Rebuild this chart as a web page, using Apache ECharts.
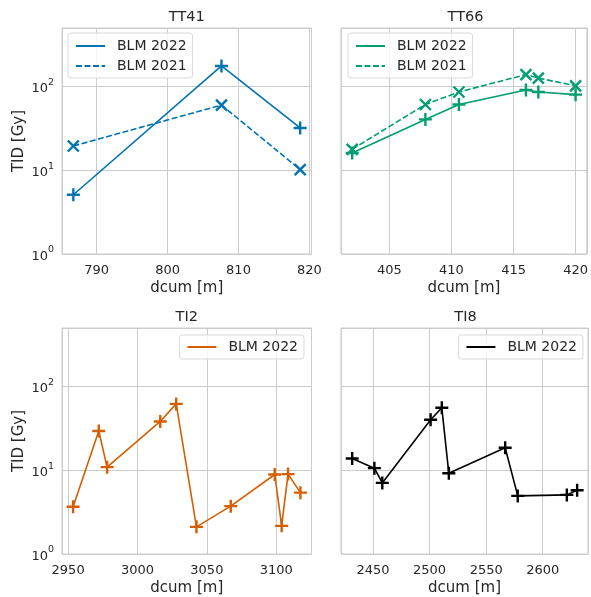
<!DOCTYPE html>
<html><head><meta charset="utf-8">
<script src="https://cdn.jsdelivr.net/npm/echarts@6/dist/echarts.min.js"></script>
<style>html,body{margin:0;padding:0;background:#fff}#c{width:591px;height:597px}</style>
</head><body><div id="c"></div>
<script>
// ---- data ----
const panelTitles = ['TT41', 'TT66', 'TI2', 'TI8'];
const legendLabels = ['BLM 2022', 'BLM 2021'];
const tt41X = [786.7, 807.6, 818.7];
const tt41Blm2022 = [5.1, 176, 32];
const tt41Blm2021 = [19.5, 60, 10.2];
const tt66X = [402.0, 407.9, 410.6, 416.0, 417.0, 420.0];
const tt66Blm2022 = [16.1, 40.5, 61, 91, 86, 80];
const tt66Blm2021 = [17.8, 61, 86, 139, 126, 102];
const ti2X = [2953.6, 2972.1, 2978.1, 3016.4, 3027.9, 3042.5, 3067.2, 3098.9, 3103.9, 3108.5, 3117.4];
const ti2Blm2022 = [3.66, 29.4, 10.9, 38.3, 62, 2.11, 3.73, 8.9, 2.17, 9.0, 5.4];
const ti8X = [2431.6, 2451.2, 2458.2, 2500.9, 2510.8, 2517.0, 2566.8, 2577.9, 2621.3, 2630.4];
const ti8Blm2022 = [13.8, 10.6, 7.06, 40.1, 55.7, 9.2, 18.6, 4.94, 5.08, 5.78];
const xRanges = [[785.1, 820.3], [401.1, 420.9], [2945.6, 3125.4], [2421.7, 2640.0]];
const xTickSteps = [10, 5, 50, 50];
const yRange = [1, 500];

// ---- style ----
const FONT = 'DejaVu Sans';
const TXT = '#262626';
const GRIDC = '#cccccc';
const COLORS = ['#0173b2', '#029e73', '#d55e00', '#000000'];
const PLUS = 'path://M5,0 L5,10 M0,5 L10,5';
const CROSS = 'path://M0,0 L10,10 M0,10 L10,0';

const zip = (xs, ys) => xs.map((x, i) => [x, ys[i]]);

const grids = [
  {left: 62, top: 28, width: 249.5, height: 226},
  {left: 341, top: 28, width: 249, height: 226},
  {left: 62, top: 328, width: 249.5, height: 227},
  {left: 341, top: 328, width: 249, height: 227}
];

const xAxes = grids.map((g, i) => ({
  type: 'value', gridIndex: i, min: xRanges[i][0], max: xRanges[i][1], splitNumber: 4,
  name: 'dcum [m]', nameLocation: 'middle', nameGap: 27,
  nameTextStyle: {fontFamily: FONT, fontSize: 15, color: TXT},
  axisLine: {show: false}, axisTick: {show: false},
  splitLine: {show: true, lineStyle: {color: GRIDC, width: 1}},
  axisLabel: {
    fontFamily: FONT, fontSize: 13, color: TXT, margin: 10,
    formatter: v => {
      const s = xTickSteps[i];
      return Math.abs(v / s - Math.round(v / s)) < 1e-6 ? String(Math.round(v)) : '';
    }
  }
}));

const yAxes = grids.map((g, i) => ({
  type: 'log', logBase: 10, gridIndex: i, min: yRange[0], max: yRange[1],
  name: (i % 2 === 0) ? 'TID [Gy]' : '', nameLocation: 'middle', nameGap: 35, nameRotate: 90,
  nameTextStyle: {fontFamily: FONT, fontSize: 15, color: TXT},
  axisLine: {show: false}, axisTick: {show: false},
  splitLine: {show: true, lineStyle: {color: GRIDC, width: 1}},
  axisLabel: {
    show: i % 2 === 0, margin: 8,
    formatter: v => {
      const e = Math.log10(v);
      if (Math.abs(e - Math.round(e)) > 1e-6) return '';
      return '{b|10}{s|' + Math.round(e) + '}';
    },
    rich: {
      b: {fontFamily: FONT, fontSize: 13, color: TXT, lineHeight: 18, verticalAlign: 'bottom'},
      s: {fontFamily: FONT, fontSize: 9.5, color: TXT, lineHeight: 18, verticalAlign: 'top'}
    }
  }
}));

function mk(name, idx, xs, ys, color, dashed) {
  return {
    type: 'line', name: name, xAxisIndex: idx, yAxisIndex: idx,
    data: zip(xs, ys), showAllSymbol: true,
    symbol: dashed ? CROSS : PLUS, symbolSize: dashed ? 11 : 13,
    lineStyle: {color: color, width: 1.6, type: dashed ? [6, 2.5] : 'solid'},
    itemStyle: {color: color, borderColor: color, borderWidth: 2.4},
    emphasis: {disabled: true}, animation: false
  };
}

const series = [
  mk('TT41 ' + legendLabels[0], 0, tt41X, tt41Blm2022, COLORS[0], false),
  mk('TT41 ' + legendLabels[1], 0, tt41X, tt41Blm2021, COLORS[0], true),
  mk('TT66 ' + legendLabels[0], 1, tt66X, tt66Blm2022, COLORS[1], false),
  mk('TT66 ' + legendLabels[1], 1, tt66X, tt66Blm2021, COLORS[1], true),
  mk('TI2 ' + legendLabels[0], 2, ti2X, ti2Blm2022, COLORS[2], false),
  mk('TI8 ' + legendLabels[0], 3, ti8X, ti8Blm2022, COLORS[3], false)
];

const legendBase = {
  orient: 'vertical', itemWidth: 29, itemHeight: 14, itemGap: 6,
  padding: [6, 6, 5, 7], backgroundColor: 'rgba(255,255,255,0.8)',
  borderColor: '#d9d9d9', borderWidth: 1, borderRadius: 3,
  textStyle: {fontFamily: FONT, fontSize: 14, color: TXT, padding: [0, 0, 0, 7]},
  itemStyle: {opacity: 0},
  selectedMode: false,
  formatter: n => n.replace(/^\S+\s/, '')
};

const legends = [
  Object.assign({}, legendBase, {left: 68, top: 33, data: ['TT41 BLM 2022', 'TT41 BLM 2021']}),
  Object.assign({}, legendBase, {left: 348, top: 33, data: ['TT66 BLM 2022', 'TT66 BLM 2021']}),
  Object.assign({}, legendBase, {right: 287, top: 335, padding: [5, 6, 5, 7], data: ['TI2 BLM 2022']}),
  Object.assign({}, legendBase, {right: 8, top: 335, padding: [5, 6, 5, 7], data: ['TI8 BLM 2022']})
];

const titles = grids.map((g, i) => ({
  text: panelTitles[i], left: g.left + g.width / 2, top: g.top - 18, padding: 0,
  textAlign: 'center',
  textStyle: {fontFamily: FONT, fontSize: 14.5, fontWeight: 'normal', color: TXT}
}));

const chart = echarts.init(document.getElementById('c'), null, {renderer: 'canvas'});
chart.setOption({
  animation: false,
  backgroundColor: '#ffffff',
  title: titles,
  grid: grids.map(g => Object.assign({show: true, borderColor: GRIDC, borderWidth: 1, backgroundColor: 'transparent'}, g)),
  xAxis: xAxes,
  yAxis: yAxes,
  legend: legends,
  series: series
});
</script></body></html>
